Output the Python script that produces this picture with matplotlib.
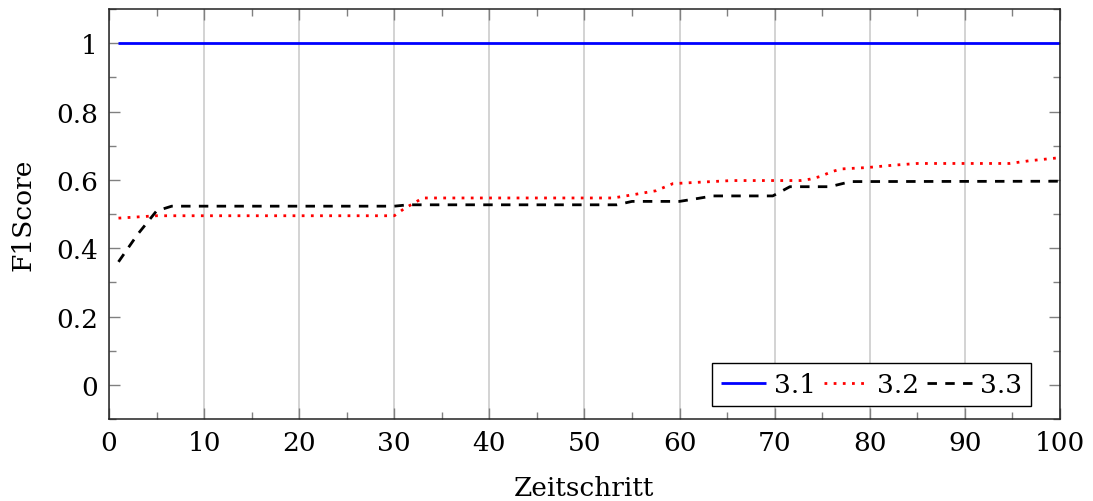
import matplotlib
matplotlib.use("Agg")
import matplotlib.pyplot as plt
from matplotlib.ticker import MultipleLocator

plt.rcParams['font.family'] = ['DejaVu Serif']

# Series 3.1: constant F1 score
t_31 = [1, 100]
f1_31 = [1.0, 1.0]

# Series 3.2
t_32 = [1, 5, 30, 31, 33, 53, 55, 57.5, 59.3, 62, 65.5, 72.7, 73.7, 74.8, 76, 77,
        79.7, 82.5, 85, 94.7, 96.8, 100]
f1_32 = [0.488, 0.495, 0.495, 0.515, 0.547, 0.547, 0.556, 0.568, 0.589, 0.593, 0.598,
         0.598, 0.602, 0.610, 0.624, 0.632, 0.636, 0.643, 0.648, 0.648, 0.656, 0.665]

# Series 3.3
t_33 = [1, 3, 5, 6.6, 30, 31.5, 53.4, 55, 60, 62, 63.5, 69.8, 71.6, 75.8, 78, 100]
f1_33 = [0.36, 0.44, 0.509, 0.523, 0.523, 0.527, 0.527, 0.537, 0.537, 0.546, 0.553,
         0.553, 0.580, 0.580, 0.595, 0.596]

series_labels = ['3.1', '3.2', '3.3']

fig = plt.figure(figsize=(10.93, 5.02), dpi=100)
ax = fig.add_axes([0.0997, 0.1633, 0.8701, 0.8167])

lw = 2.0
ax.plot(t_31, f1_31, color='#0000ff', lw=lw, solid_capstyle='butt', label=series_labels[0])
ax.plot(t_32, f1_32, color='#ff0000', lw=lw, linestyle=(0, (1, 2.3)), label=series_labels[1])
ax.plot(t_33, f1_33, color='black', lw=lw, linestyle=(0, (3.4, 3.0)), label=series_labels[2])

ax.set_xlim(0, 100)
ax.set_ylim(-0.1, 1.1)
ax.xaxis.set_major_locator(MultipleLocator(10))
ax.xaxis.set_minor_locator(MultipleLocator(5))
ax.yaxis.set_minor_locator(MultipleLocator(0.1))
ax.set_yticks([0, 0.2, 0.4, 0.6, 0.8, 1.0])
ax.set_yticklabels(['0', '0.2', '0.4', '0.6', '0.8', '1'])

ax.tick_params(which='both', direction='in', top=True, right=True,
               color='#808080', width=1, labelsize=19, pad=8)
ax.tick_params(which='major', length=8)
ax.tick_params(which='minor', length=5)

ax.grid(axis='x', which='major', color='#c8c8c8', lw=1.1)
ax.set_axisbelow(True)
for s in ax.spines.values():
    s.set_color('#222222')
    s.set_linewidth(1.1)

ax.set_xlabel('Zeitschritt', fontsize=19, labelpad=14)
ax.set_ylabel('F1Score', fontsize=19, labelpad=15)

leg = ax.legend(loc='lower right', bbox_to_anchor=(0.9695, 0.0317), ncol=3,
                fontsize=19, frameon=True, fancybox=False, framealpha=1,
                edgecolor='black', handlelength=1.7, handletextpad=0.3,
                columnspacing=0.3, borderpad=0.35, borderaxespad=0)
leg.get_frame().set_linewidth(1.0)

fig.savefig('out.png', dpi=100)
